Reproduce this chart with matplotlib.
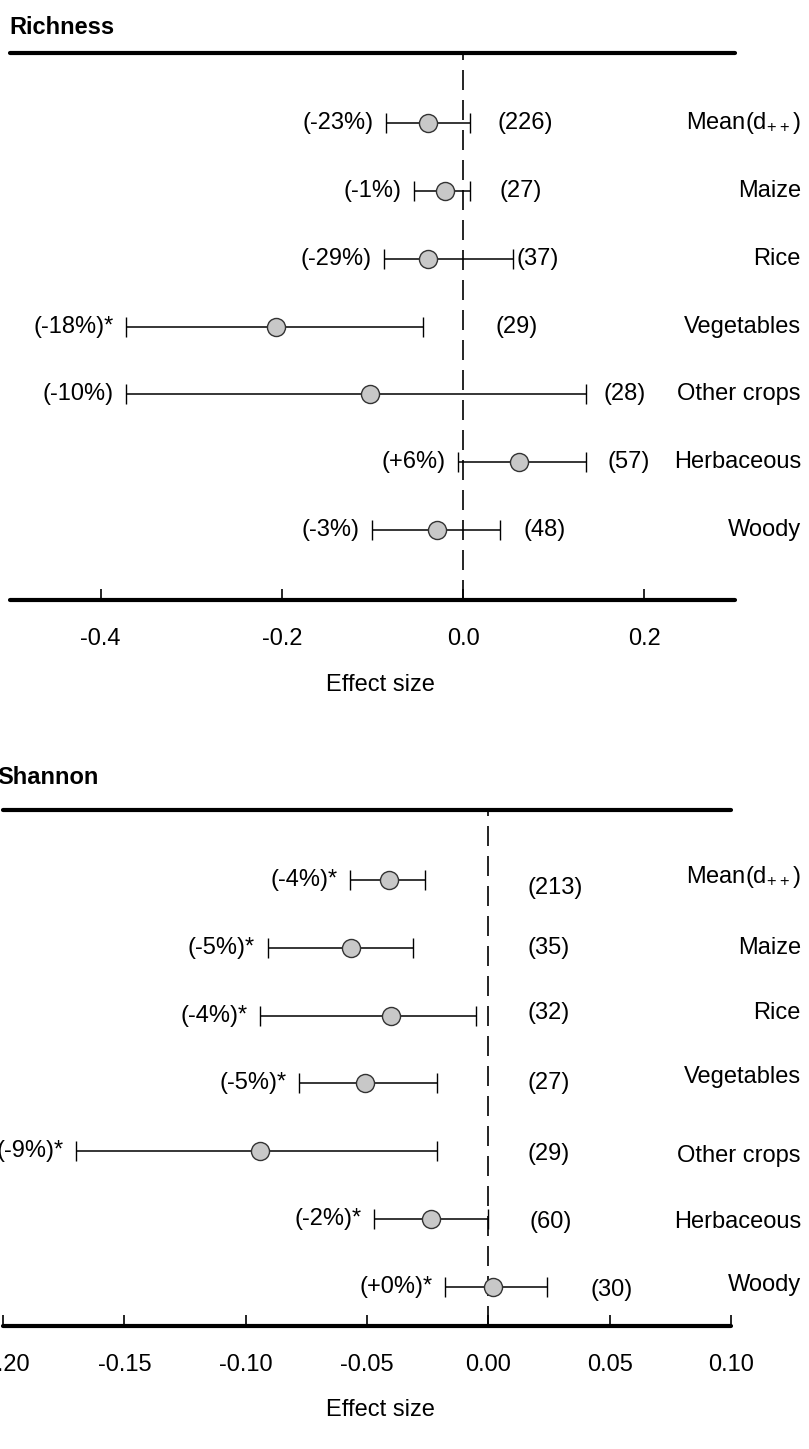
#!/usr/bin/env python3
# coding: utf-8

import numpy as np
from matplotlib import pyplot as plt
from matplotlib import transforms

plt.rcParams['font.family'] = ['Liberation Sans', 'DejaVu Sans']
plt.rcParams['mathtext.default'] = 'regular'

categories = [r'Mean(d$_{++}$)', 'Maize', 'Rice', 'Vegetables',
              'Other crops', 'Herbaceous', 'Woody']

# Richness
rich_mean = [-0.039, -0.020, -0.039, -0.206, -0.103, 0.062, -0.029]
rich_lo = [-0.085, -0.054, -0.087, -0.372, -0.372, -0.006, -0.101]
rich_hi = [0.008, 0.008, 0.055, -0.044, 0.136, 0.136, 0.041]
rich_pct = ['(-23%)', '(-1%)', '(-29%)', '(-18%)*', '(-10%)', '(+6%)', '(-3%)']
rich_n = ['(226)', '(27)', '(37)', '(29)', '(28)', '(57)', '(48)']

# Shannon
shan_mean = [-0.041, -0.0565, -0.040, -0.051, -0.094, -0.0235, 0.002]
shan_lo = [-0.057, -0.091, -0.094, -0.078, -0.170, -0.047, -0.018]
shan_hi = [-0.026, -0.031, -0.005, -0.021, -0.021, 0.000, 0.024]
shan_pct = ['(-4%)*', '(-5%)*', '(-4%)*', '(-5%)*', '(-9%)*', '(-2%)*', '(+0%)*']
shan_n = ['(213)', '(35)', '(32)', '(27)', '(29)', '(60)', '(30)']

# label placement (layout only): x of count labels, vertical nudges in px
rich_n_x = [0.038, 0.040, 0.059, 0.036, 0.155, 0.159, 0.067]
rich_n_dy = [0, 0, 0, 0, 0, 0, 0]
rich_cat_dy = [0, 0, 0, 0, 0, 0, 0]
shan_n_x = [0.016, 0.016, 0.016, 0.016, 0.016, 0.017, 0.042]
shan_n_dy = [8, 0, -3, 0, 3, 3, 3]
shan_cat_dy = [-3, 0, -3, -6, 5, 3, -2]

FS = 17

fig = plt.figure(figsize=(8.09, 14.49), dpi=100)


def panel(rect, title, title_xy, mean, lo, hi, pct, n, n_x, n_dy, cat_dy,
          xlim, ylim, ticks, ticklabels, xlabel_y):
    ax = fig.add_axes(rect)
    y = np.arange(len(mean))
    mean = np.array(mean)
    err = [mean - np.array(lo), np.array(hi) - mean]
    ax.axvline(0, color='black', lw=1.2, dashes=(12, 6), zorder=1)
    ax.errorbar(mean, y, xerr=err, fmt='o', color='black', ecolor='black',
                elinewidth=1.1, capsize=7, capthick=1.1, markersize=13,
                markerfacecolor='#c8c8c8', markeredgecolor='#333333',
                markeredgewidth=1.0, zorder=3)
    trans = transforms.blended_transform_factory(fig.transFigure, ax.transData)
    for i in range(len(mean)):
        ax.annotate(pct[i], (lo[i], y[i]), xytext=(-9, 0),
                    textcoords='offset points', ha='right', va='center',
                    fontsize=FS, annotation_clip=False)
        ax.annotate(n[i], (n_x[i], y[i]), xytext=(0, -n_dy[i] * 0.72),
                    textcoords='offset points', ha='left', va='center',
                    fontsize=FS, annotation_clip=False)
        ax.annotate(categories[i], (0.99, y[i]), xycoords=trans,
                    xytext=(0, -cat_dy[i] * 0.72), textcoords='offset points',
                    ha='right', va='center', fontsize=FS,
                    annotation_clip=False)
    ax.set_xlim(*xlim)
    ax.set_ylim(*ylim)
    ax.set_xticks(ticks)
    ax.set_xticklabels(ticklabels, fontsize=FS)
    ax.set_yticks([])
    for s in ['left', 'right']:
        ax.spines[s].set_visible(False)
    for s in ['top', 'bottom']:
        ax.spines[s].set_linewidth(3)
        ax.spines[s].set_capstyle('round')
    ax.tick_params(axis='x', direction='in', length=8, width=1.2, pad=20)
    fig.text(title_xy[0], title_xy[1], title, fontsize=FS,
             fontweight='bold', ha='left', va='center')
    fig.text(0.47, xlabel_y, 'Effect size', fontsize=FS, ha='center',
             va='center')
    return ax


panel([0.0124, 0.5859, 0.896, 0.3775], 'Richness', (0.012, 1 - 27 / 1449),
      rich_mean, rich_lo, rich_hi, rich_pct, rich_n, rich_n_x,
      rich_n_dy, rich_cat_dy,
      (-0.5, 0.3), (7.03, -1.03),
      [-0.4, -0.2, 0.0, 0.2], ['-0.4', '-0.2', '0.0', '0.2'],
      1 - 685 / 1449)

panel([0.0037, 0.0849, 0.900, 0.356], 'Shannon', (-0.003, 1 - 778 / 1449),
      shan_mean, shan_lo, shan_hi, shan_pct, shan_n, shan_n_x,
      shan_n_dy, shan_cat_dy,
      (-0.2, 0.1), (6.58, -1.03),
      [-0.20, -0.15, -0.10, -0.05, 0.0, 0.05, 0.10],
      ['-0.20', '-0.15', '-0.10', '-0.05', '0.00', '0.05', '0.10'],
      1 - 1410 / 1449)

plt.savefig('out.png', dpi=100)
